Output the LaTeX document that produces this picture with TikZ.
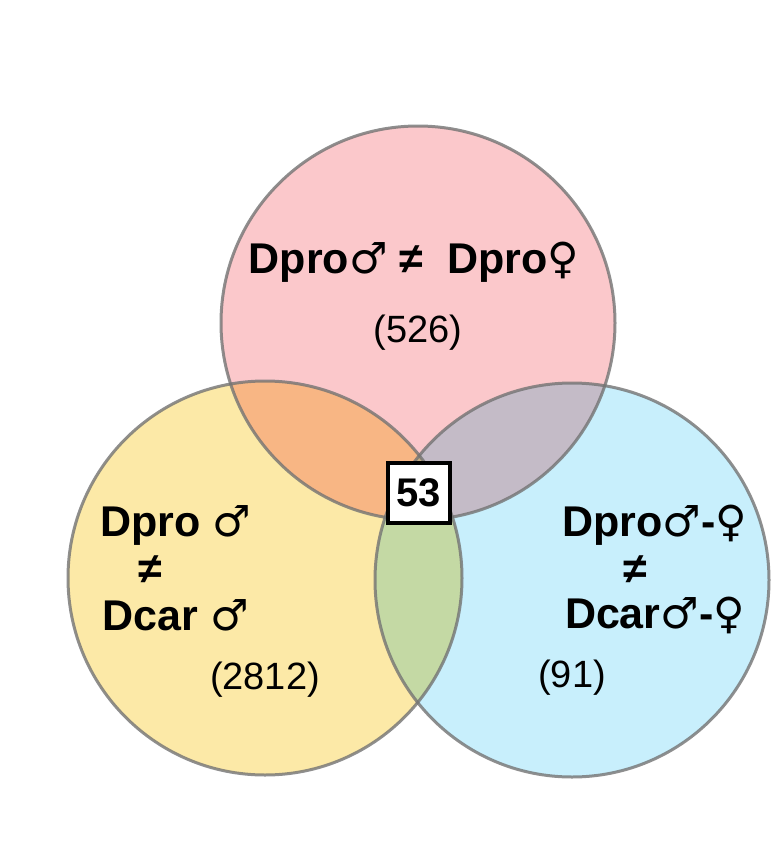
\documentclass[tikz,border=0pt]{standalone}
\usepackage{fontspec}
\setmainfont{Liberation Sans}
\newfontfamily\symf{DejaVu Sans}
\begin{document}
\begin{tikzpicture}[x=1pt,y=1pt,
  circ/.style={draw=gray!90!black,line width=3pt,draw opacity=0.8},
  lab/.style={font=\bfseries\fontsize{43}{45}\selectfont},
  num/.style={font=\fontsize{38}{40}\selectfont}]
\useasboundingbox (0,0) rectangle (773,-843);
\begin{scope}[blend group=multiply]
\fill[fill={rgb,255:red,251;green,200;blue,203}] (418,-323) circle (197);
\fill[fill={rgb,255:red,252;green,233;blue,167}] (265,-578) circle (197);
\fill[fill={rgb,255:red,190;green,236;blue,251},fill opacity=0.85] (572,-580) circle (197);
\end{scope}
\draw[circ] (418,-323) circle (197);
\draw[circ] (265,-578) circle (197);
\draw[circ] (572,-580) circle (197);
\node[lab] (t1) at (414,-262) {Dpro{\symf ♂} ≠ \ Dpro{\symf ♀}};
\node[num] (n1) at (418,-333) {(526)};
\node[lab] (l1) at (176,-525) {Dpro {\symf ♂}};
\node[lab] (l2) at (150,-570) {≠};
\node[lab] (l3) at (176,-615) {Dcar {\symf ♂}};
\node[num] (n2) at (265,-680) {(2812)};
\node[lab] (r1) at (655,-525) {Dpro{\symf ♂}-{\symf ♀}};
\node[lab] (r2) at (635,-570) {≠};
\node[lab] (r3) at (655,-615) {Dcar{\symf ♂}-{\symf ♀}};
\node[num] (n3) at (572,-678) {(91)};
\node[draw=black,fill=white,line width=3.5pt,minimum width=62pt,minimum height=60pt,inner sep=0pt,font=\bfseries\fontsize{40}{42}\selectfont] (c) at (419,-493) {53};
\end{tikzpicture}
\end{document}
